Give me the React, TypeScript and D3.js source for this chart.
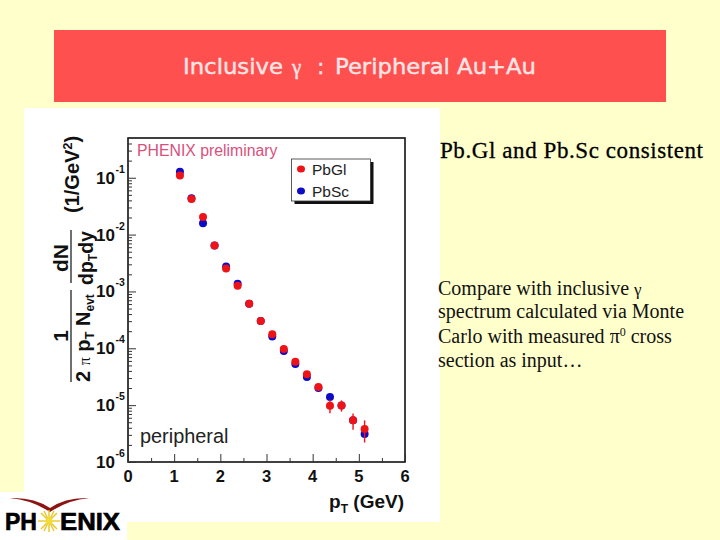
import React, { useEffect, useRef } from 'react';
import * as d3 from 'd3';

const ptBins = [1.125, 1.375, 1.625, 1.875, 2.125, 2.375, 2.625, 2.875, 3.125, 3.375, 3.625, 3.875, 4.125, 4.375, 4.625, 4.875, 5.125];
const pbGl = [0.11, 0.0422, 0.0203, 0.00643, 0.00253, 0.00126, 6.05e-4, 3.03e-4, 1.77e-4, 9.75e-5, 5.77e-5, 3.5e-5, 2.09e-5, 9.8e-6, 9.9e-6, 5.4e-6, 3.8e-6];
const pbGlErr = [0, 0, 0, 0, 0.0002, 0.0001, 0, 0, 0, 0, 0, 0, 1.5e-6, 2.6e-6, 2.2e-6, 1.7e-6, 1.6e-6];
const pbSc = [0.128, 0.0435, 0.0159, 0.0064, 0.00274, 0.00136, 6.05e-4, 3.03e-4, 1.61e-4, 9e-5, 5.3e-5, 3.13e-5, 2e-5, 1.39e-5, 9.9e-6, 5.4e-6, 3.1e-6];
const xMajor = [0, 1, 2, 3, 4, 5, 6];
const xMinor = [0.5, 1.5, 2.5, 3.5, 4.5, 5.5];
const yExponents = [-1, -2, -3, -4, -5, -6];
const legendItems = ['PbGl', 'PbSc'];
const bodyLines = ['Compare with inclusive ', 'spectrum calculated via Monte', 'Carlo with measured ', 'section as input…'];

const RED = '#ee1316';
const BLUE = '#0c0cc4';
const SANS = '"Liberation Sans", Arial, sans-serif';
const SERIF = '"Liberation Serif", "Times New Roman", serif';
const TITLE = '"DejaVu Sans", sans-serif';

const App: React.FC = () => {
  const plotRef = useRef<SVGGElement | null>(null);

  useEffect(() => {
    const g = d3.select(plotRef.current);
    g.selectAll('*').remove();

    const x = d3.scaleLinear().domain([0, 6]).range([128, 405]);
    const y = d3.scaleLog().domain([1e-6, 0.5]).range([462, 138]);

    const yMinor: number[] = [];
    yExponents.forEach(e => {
      for (let m = 2; m <= 9; m++) {
        const v = m * Math.pow(10, e);
        if (v < 0.5) yMinor.push(v);
      }
    });

    // frame
    g.append('rect')
      .attr('x', 128).attr('y', 138).attr('width', 277).attr('height', 324)
      .attr('fill', 'none').attr('stroke', '#111').attr('stroke-width', 1.6);

    // ticks go inward, labels are placed by hand below
    const addAxis = (axis: any, tx: number, ty: number) => {
      const a = g.append('g').attr('transform', `translate(${tx},${ty})`).call(axis);
      a.select('.domain').remove();
      a.selectAll('text').remove();
      a.selectAll('line').attr('stroke', '#333').attr('stroke-width', 1);
    };
    addAxis(d3.axisBottom(x).tickValues(xMajor).tickSize(-8), 0, 462);
    addAxis(d3.axisBottom(x).tickValues(xMinor).tickSize(-4), 0, 462);
    addAxis(d3.axisLeft(y).tickValues(yExponents.map(e => Math.pow(10, e))).tickSize(-8), 128, 0);
    addAxis(d3.axisLeft(y).tickValues(yMinor).tickSize(-4), 128, 0);

    g.append('g').selectAll('text').data(xMajor).join('text')
      .attr('x', d => x(d)).attr('y', 482)
      .attr('text-anchor', 'middle')
      .attr('font-family', SANS).attr('font-size', 16.5).attr('font-weight', 'bold')
      .attr('fill', '#111')
      .text(d => d);

    const yLabels = g.append('g').selectAll('g').data(yExponents).join('g')
      .attr('font-family', SANS).attr('font-weight', 'bold').attr('fill', '#111');
    yLabels.append('text')
      .attr('x', 96).attr('y', d => y(Math.pow(10, d)) + 6)
      .attr('font-size', 17)
      .text('10');
    yLabels.append('text')
      .attr('x', 115.5).attr('y', d => y(Math.pow(10, d)) - 5)
      .attr('font-size', 10.5)
      .text(d => String(d));

    // points: blue first, red sits on top
    g.append('g').selectAll('circle').data(pbSc).join('circle')
      .attr('cx', (_, i) => x(ptBins[i])).attr('cy', d => y(d))
      .attr('r', 4).attr('fill', BLUE);

    g.append('g').selectAll('line').data(pbGl).join('line')
      .attr('x1', (_, i) => x(ptBins[i])).attr('x2', (_, i) => x(ptBins[i]))
      .attr('y1', (d, i) => y(d + pbGlErr[i])).attr('y2', (d, i) => y(d - pbGlErr[i]))
      .attr('stroke', RED).attr('stroke-width', 1.4);

    g.append('g').selectAll('circle').data(pbGl).join('circle')
      .attr('cx', (_, i) => x(ptBins[i])).attr('cy', d => y(d))
      .attr('r', 4).attr('fill', RED);

    // legend
    const legend = g.append('g');
    legend.append('rect').attr('x', 294.5).attr('y', 162).attr('width', 79).attr('height', 42).attr('fill', '#111');
    legend.append('rect').attr('x', 291.5).attr('y', 159).attr('width', 79).attr('height', 42)
      .attr('fill', '#fff').attr('stroke', '#333').attr('stroke-width', 0.8);
    const legendRow = legend.selectAll('g').data(legendItems).join('g')
      .attr('transform', (_, i) => `translate(0,${169 + i * 22})`);
    legendRow.append('ellipse')
      .attr('cx', 301).attr('rx', 4).attr('ry', 3.5)
      .attr('fill', (_, i) => (i === 0 ? RED : BLUE));
    legendRow.append('text')
      .attr('x', 312).attr('y', 6)
      .attr('font-family', SANS).attr('font-size', 15.5).attr('fill', '#222')
      .text(d => d);
  }, []);

  return (
    <svg width={720} height={540} style={{ position: 'absolute', left: 0, top: 0 }}>
      <rect width={720} height={540} fill="#ffffcc" />
      <rect x={54} y={30} width={612} height={72} fill="#ff5050" />
      <g fontFamily={TITLE} fontSize={22} fill="#ffe6e6" stroke="#ffe6e6" strokeWidth={0.4}>
        <text x={183} y={74} textLength={100} lengthAdjust="spacingAndGlyphs">Inclusive</text>
        <text x={292} y={74} fontFamily={SERIF} fontSize={21}>γ</text>
        <text x={317} y={74}>:</text>
        <text x={335} y={74} textLength={201} lengthAdjust="spacingAndGlyphs">Peripheral Au+Au</text>
      </g>

      <rect x={24} y={108} width={416} height={414} fill="#fff" />

      <g ref={plotRef} />

      <text x={137} y={156} fontFamily={SANS} fontSize={15.8} fill="#d9507c">PHENIX preliminary</text>
      <text x={140} y={443} fontFamily={SANS} fontSize={19.9} fill="#222">peripheral</text>

      <text x={404} y={508} textAnchor="end" fontFamily={SANS} fontSize={19} fontWeight="bold" fill="#111">
        p<tspan fontSize={12} dy={5}>T</tspan><tspan dy={-5}> (GeV)</tspan>
      </text>

      <g fontFamily={SANS} fontWeight="bold" fill="#111">
        <text transform="translate(79,213) rotate(-90)" fontSize={20}>
          (1/GeV<tspan fontSize={13} dy={-7}>2</tspan><tspan dy={7}>)</tspan>
        </text>
        <text transform="translate(68,258) rotate(-90)" textAnchor="middle" fontSize={21}>dN</text>
        <line x1={71} x2={71} y1={230} y2={283} stroke="#333" strokeWidth={1.4} />
        <text transform="translate(93,285) rotate(-90)" fontSize={19.5}>
          dp<tspan fontSize={12} dy={4}>T</tspan><tspan dy={-4}>dy</tspan>
        </text>
        <text transform="translate(68,336) rotate(-90)" textAnchor="middle" fontSize={21}>1</text>
        <line x1={71} x2={71} y1={290} y2={382} stroke="#333" strokeWidth={1.4} />
        <text transform="translate(90,382) rotate(-90)" fontSize={20}>
          2 <tspan fontFamily={SERIF} fontWeight="normal" fontSize={16}>π</tspan> p<tspan fontSize={13} dy={4}>T</tspan>
          <tspan dy={-4}> N</tspan><tspan fontSize={12} dy={4}>evt</tspan>
        </text>
      </g>

      <text x={440} y={158} fontFamily={SERIF} fontSize={23} fill="#000" stroke="#000" strokeWidth={0.3} textLength={263}>Pb.Gl and Pb.Sc consistent</text>
      <g fontFamily={SERIF} fontSize={20} fill="#111">
        <text x={438} y={295}>{bodyLines[0]}<tspan fontSize={17}>γ</tspan></text>
        <text x={438} y={318}>{bodyLines[1]}</text>
        <text x={438} y={342.5}>{bodyLines[2]}π<tspan fontSize={12} dy={-7}>0</tspan><tspan dy={7}> cross</tspan></text>
        <text x={438} y={366.5}>{bodyLines[3]}</text>
      </g>

      <rect x={0} y={492} width={127} height={48} fill="#fff" />
      <path d="M10,498 Q34,497 50,508 Q66,497 89,498 Q68,500 50,512 Q32,500 10,498 Z" fill="#8e1414" />
      <text x={5} y={530} fontFamily={SANS} fontSize={24.5} fontWeight="bold" fill="#000" stroke="#000" strokeWidth={0.7} textLength={32} lengthAdjust="spacingAndGlyphs">PH</text>
      <text x={60} y={530} fontFamily={SANS} fontSize={24.5} fontWeight="bold" fill="#000" stroke="#000" strokeWidth={0.7} textLength={60} lengthAdjust="spacingAndGlyphs">ENIX</text>
      <g stroke="#e8c820" strokeWidth={1.4}>
        <line x1={38} x2={60} y1={521} y2={521} />
        <line x1={49} x2={49} y1={510} y2={532} />
        <line x1={41} x2={57} y1={513} y2={529} />
        <line x1={41} x2={57} y1={529} y2={513} />
        <line x1={44} x2={54} y1={511} y2={531} />
        <line x1={44} x2={54} y1={531} y2={511} />
      </g>
      <circle cx={49} cy={521} r={3.5} fill="#f2dc3a" />
    </svg>
  );
};

export default App;
